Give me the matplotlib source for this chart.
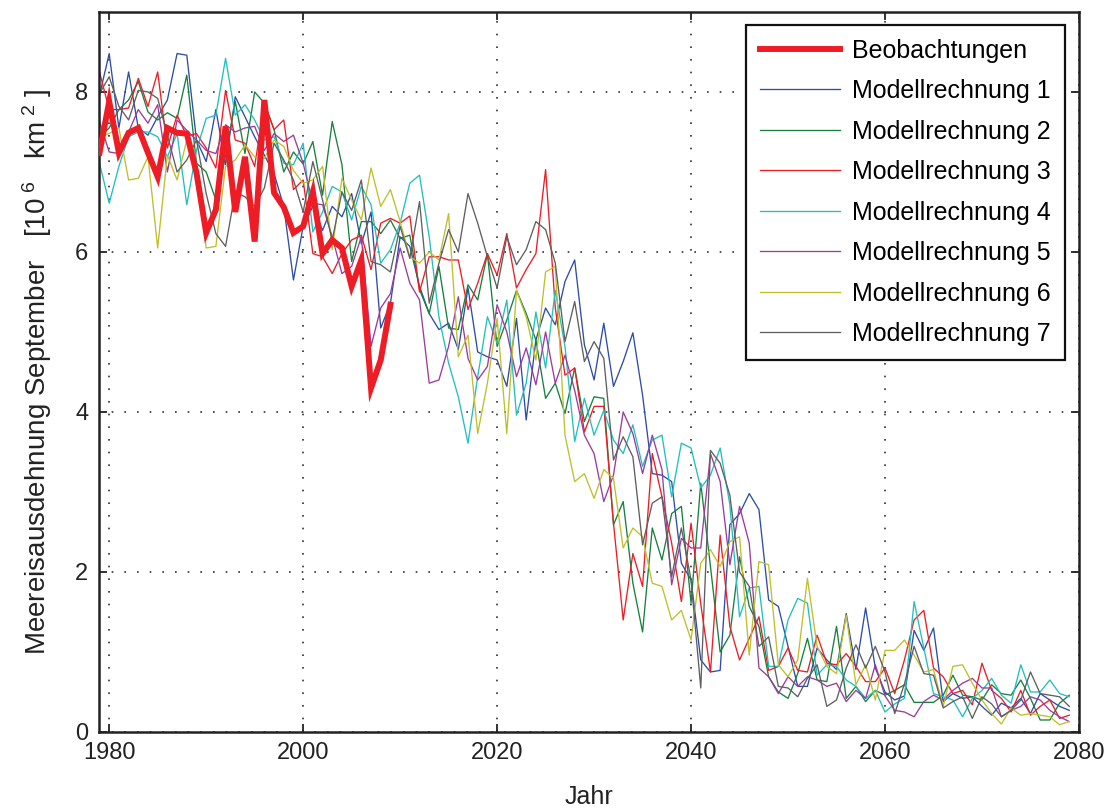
import numpy as np
import matplotlib
matplotlib.use("Agg")
import matplotlib.pyplot as plt

plt.rcParams['font.family'] = ['Liberation Sans', 'DejaVu Sans']
plt.rcParams['mathtext.fontset'] = 'custom'
plt.rcParams['mathtext.rm'] = 'Liberation Sans'
plt.rcParams['mathtext.it'] = 'Liberation Sans:italic'

# Jahre
years_obs = np.arange(1979, 2010)
years_mod = np.arange(1979, 2080)

# Beobachtungen 1979-2009 (10^6 km^2)
obs = [7.24, 7.88, 7.24, 7.49, 7.55, 7.24, 6.94, 7.55, 7.49, 7.48,
       6.99, 6.24, 6.53, 7.57, 6.50, 7.19, 6.13, 7.90, 6.74, 6.56,
       6.24, 6.32, 6.75, 5.98, 6.15, 6.05, 5.57, 5.90, 4.30, 4.65, 5.34]

# Modellrechnungen 1979-2079
m1 = [7.96, 8.48, 7.55, 8.25, 7.55, 7.46, 7.69, 7.90, 8.48, 8.46, 7.40, 7.13, 7.78, 7.09, 7.94, 7.69, 7.44, 7.21, 6.98, 6.57, 5.65, 6.32,
      6.57, 6.27, 6.57, 6.44, 6.73, 6.10, 6.50, 5.05, 5.36, 6.19, 6.07, 5.57, 5.23, 5.03, 5.11, 4.78, 5.55, 4.75, 4.69,
      4.65, 4.32, 5.17, 3.90, 4.90, 5.30, 5.09, 5.63, 5.90, 4.84, 4.40, 5.11, 4.32, 4.63, 4.99, 4.21, 3.23, 3.21, 3.13, 2.11, 1.90,
      0.90, 0.75, 0.77, 2.59, 2.73, 2.98, 2.78, 1.65, 1.57, 1.07, 0.57, 0.57, 1.05, 0.90, 0.78, 1.48, 0.78, 1.55, 0.80,
      0.50, 0.40, 0.45, 1.27, 1.02, 1.30, 0.38, 0.48, 0.42, 0.44, 0.32, 0.21, 0.36, 0.30, 0.42, 0.23, 0.48, 0.40, 0.32, 0.27]
m2 = [7.44, 7.55, 7.78, 7.90, 8.13, 7.75, 7.65, 7.74, 7.67, 8.21, 7.11, 7.00, 6.65, 7.20, 7.88, 7.23, 8.00, 7.86, 7.53, 7.00, 7.25, 7.10,
      7.38, 6.71, 7.63, 7.09, 5.88, 6.38, 6.38, 6.23, 6.40, 6.17, 6.21, 5.53, 5.23, 5.82, 5.05, 5.03, 5.59, 5.40, 5.98,
      4.82, 5.15, 5.52, 5.23, 4.90, 4.17, 4.36, 3.98, 4.55, 3.88, 4.19, 4.17, 2.59, 2.88, 1.86, 1.25, 2.55, 2.15, 2.73, 2.82, 1.61,
      3.11, 2.07, 1.00, 1.21, 2.19, 1.57, 1.32, 0.69, 0.50, 0.42, 0.73, 1.17, 0.65, 0.63, 1.32, 0.42, 0.57, 0.38, 0.52,
      0.46, 0.52, 0.59, 0.37, 0.37, 0.37, 0.46, 0.71, 0.46, 0.44, 0.40, 0.59, 0.48, 0.46, 0.65, 0.42, 0.15, 0.15, 0.36, 0.46]
m3 = [8.25, 7.78, 7.78, 7.80, 8.17, 7.82, 8.25, 7.30, 7.71, 7.45, 7.48, 7.30, 7.05, 8.02, 7.40, 7.36, 7.07, 7.86, 7.53, 7.65, 6.78, 6.90,
      5.98, 5.94, 5.73, 5.98, 6.15, 6.21, 5.78, 6.36, 6.42, 6.36, 6.45, 5.50, 5.94, 5.94, 5.90, 5.90, 5.28, 5.61, 5.98,
      5.71, 6.23, 5.55, 5.78, 5.98, 7.03, 5.30, 4.46, 4.55, 3.75, 4.07, 4.07, 2.61, 1.40, 2.23, 1.82, 3.48, 2.94, 2.36, 1.63, 2.61,
      1.60, 0.75, 2.46, 1.32, 0.90, 1.17, 1.44, 0.77, 0.82, 1.05, 0.77, 0.75, 1.21, 0.86, 0.84, 0.98, 0.82, 0.63, 0.63,
      0.80, 0.48, 0.90, 1.40, 1.52, 0.80, 0.69, 0.48, 0.52, 0.34, 0.86, 0.52, 0.42, 0.25, 0.52, 0.21, 0.32, 0.40, 0.17, 0.21]
m4 = [7.11, 6.61, 7.07, 7.44, 7.50, 7.50, 7.44, 7.19, 7.48, 6.59, 7.27, 7.67, 7.71, 8.42, 7.71, 7.84, 7.65, 7.40, 7.44, 7.11, 7.09, 7.36,
      6.25, 6.50, 6.82, 6.75, 6.40, 6.82, 6.59, 5.86, 6.03, 6.36, 6.86, 6.96, 6.19, 5.19, 4.61, 4.19, 3.61, 4.44, 5.19,
      4.86, 5.40, 3.96, 4.36, 5.25, 4.55, 5.52, 4.82, 3.63, 4.17, 3.71, 4.02, 3.65, 3.48, 3.84, 3.32, 3.65, 3.71, 2.94, 3.61, 3.55,
      3.05, 3.21, 3.55, 2.84, 1.44, 1.80, 1.82, 0.82, 0.82, 1.40, 1.67, 1.61, 0.71, 0.84, 0.82, 0.65, 0.57, 0.42, 0.52,
      0.25, 0.35, 0.42, 1.63, 1.05, 0.48, 0.44, 0.40, 0.19, 0.42, 0.52, 0.67, 0.46, 0.36, 0.84, 0.50, 0.50, 0.65, 0.48, 0.44]
m5 = [7.63, 7.25, 7.23, 7.50, 7.78, 7.61, 7.84, 7.00, 7.65, 7.52, 7.40, 7.27, 7.23, 7.59, 7.50, 7.55, 7.57, 7.27, 7.48, 7.38, 7.46, 7.11,
      6.61, 6.59, 6.19, 5.73, 5.82, 6.19, 4.82, 5.30, 5.48, 6.05, 5.61, 5.40, 4.36, 4.40, 4.82, 5.44, 4.67, 4.40, 4.57,
      5.34, 5.00, 4.44, 4.80, 4.34, 5.00, 4.36, 4.71, 4.27, 3.71, 3.48, 2.88, 3.21, 4.00, 3.73, 3.23, 3.71, 3.28, 1.84, 2.42, 2.30,
      2.30, 3.48, 3.13, 2.09, 2.82, 2.36, 0.80, 0.69, 0.48, 0.69, 0.57, 0.69, 0.65, 0.57, 0.61, 0.38, 0.52, 0.42, 0.84,
      0.45, 0.27, 0.25, 0.19, 0.38, 0.46, 0.40, 0.52, 0.61, 0.67, 0.55, 0.55, 0.19, 0.27, 0.32, 0.44, 0.40, 0.27, 0.19, 0.13]
m6 = [7.44, 7.48, 7.55, 6.90, 6.92, 7.19, 6.05, 7.21, 6.90, 7.40, 7.10, 6.05, 6.07, 7.07, 7.15, 7.34, 7.19, 7.17, 7.40, 7.32, 7.02, 6.86,
      6.90, 7.07, 6.03, 6.92, 6.65, 6.40, 7.05, 6.57, 6.78, 6.38, 5.94, 5.86, 6.00, 5.90, 6.48, 4.69, 4.96, 3.73, 4.36,
      5.17, 3.73, 5.52, 5.19, 4.65, 5.75, 5.82, 3.71, 3.13, 3.23, 2.92, 3.28, 3.17, 2.30, 2.55, 2.44, 1.86, 1.82, 1.40, 1.52, 1.15,
      2.11, 2.28, 2.07, 2.38, 2.44, 0.96, 2.13, 2.09, 0.84, 0.69, 0.90, 1.92, 1.07, 0.82, 0.73, 1.46, 0.59, 0.84, 0.40,
      1.02, 1.02, 1.15, 0.96, 0.75, 0.78, 0.32, 0.82, 0.84, 0.61, 0.40, 0.23, 0.10, 0.30, 0.21, 0.23, 0.21, 0.19, 0.09, 0.13]
m7 = [7.98, 8.19, 7.82, 7.65, 8.02, 8.00, 7.92, 7.46, 7.00, 7.15, 7.40, 6.73, 6.23, 6.07, 6.75, 6.69, 6.57, 6.80, 7.36, 7.15, 6.90, 6.50,
      7.13, 6.65, 6.15, 6.75, 6.52, 6.90, 5.88, 5.84, 5.75, 6.32, 5.92, 6.63, 5.36, 5.86, 6.28, 6.00, 6.73, 6.36, 5.94,
      5.55, 6.19, 5.84, 6.03, 6.38, 6.28, 5.86, 4.88, 5.38, 4.63, 4.88, 4.67, 3.40, 3.69, 3.44, 2.34, 2.86, 2.94, 1.94, 2.55, 1.90,
      0.55, 3.52, 3.36, 2.96, 2.00, 1.82, 1.07, 1.19, 0.57, 0.55, 0.44, 0.67, 0.84, 0.32, 0.40, 0.80, 1.09, 0.80, 1.07,
      0.75, 0.23, 0.60, 1.07, 0.73, 0.71, 0.30, 0.38, 0.44, 0.17, 0.44, 0.35, 0.19, 0.27, 0.40, 0.75, 0.48, 0.46, 0.44, 0.32]

models = [m1, m2, m3, m4, m5, m6, m7]
colors = ['#2c4da8', '#17803d', '#ee1c24', '#22bfbf', '#9c3b9c', '#bfbf2b', '#5f5f5f']

fig = plt.figure(figsize=(11.08, 8.09), dpi=100)
ax = fig.add_axes([0.0898, 0.0952, 0.884, 0.89])

ax.plot(years_obs, obs, color='#ee1c24', lw=4.3, zorder=5,
        solid_joinstyle='miter', label='Beobachtungen')
for i, (m, c) in enumerate(zip(models, colors)):
    ax.plot(years_mod, m, color=c, lw=0.95, label='Modellrechnung {}'.format(i + 1))

ax.set_xlim(1979, 2080)
ax.set_ylim(0, 9)
ax.set_xticks(range(1980, 2081, 20))
ax.set_yticks(range(0, 9, 2))
ax.grid(True, color='#303030', linestyle=(0, (1, 6.6)), lw=1.2)
ax.tick_params(direction='in', length=6, width=1.3, top=True, right=True,
               labelsize=17, colors='#222222')
ax.tick_params(axis='x', pad=7)
ax.tick_params(axis='y', pad=8)
for s in ax.spines.values():
    s.set_linewidth(1.8)
    s.set_color('#222222')

ax.set_xlabel('Jahr', fontsize=18, labelpad=15, color='#222222')
ax.set_ylabel(r'Meereisausdehnung September   [10$^{\ 6}$   km$^{\ 2}$ ]',
              fontsize=20, labelpad=15, color='#222222')

leg = ax.legend(loc='upper right', bbox_to_anchor=(0.9857, 0.982), borderaxespad=0,
                fontsize=18, frameon=True, fancybox=False, handlelength=3.2,
                labelspacing=0.66, borderpad=0.55, handletextpad=0.5)
leg.get_frame().set_edgecolor('#111111')
leg.get_frame().set_linewidth(1.6)
leg.get_frame().set_alpha(1)

fig.savefig('out.png', dpi=100)
